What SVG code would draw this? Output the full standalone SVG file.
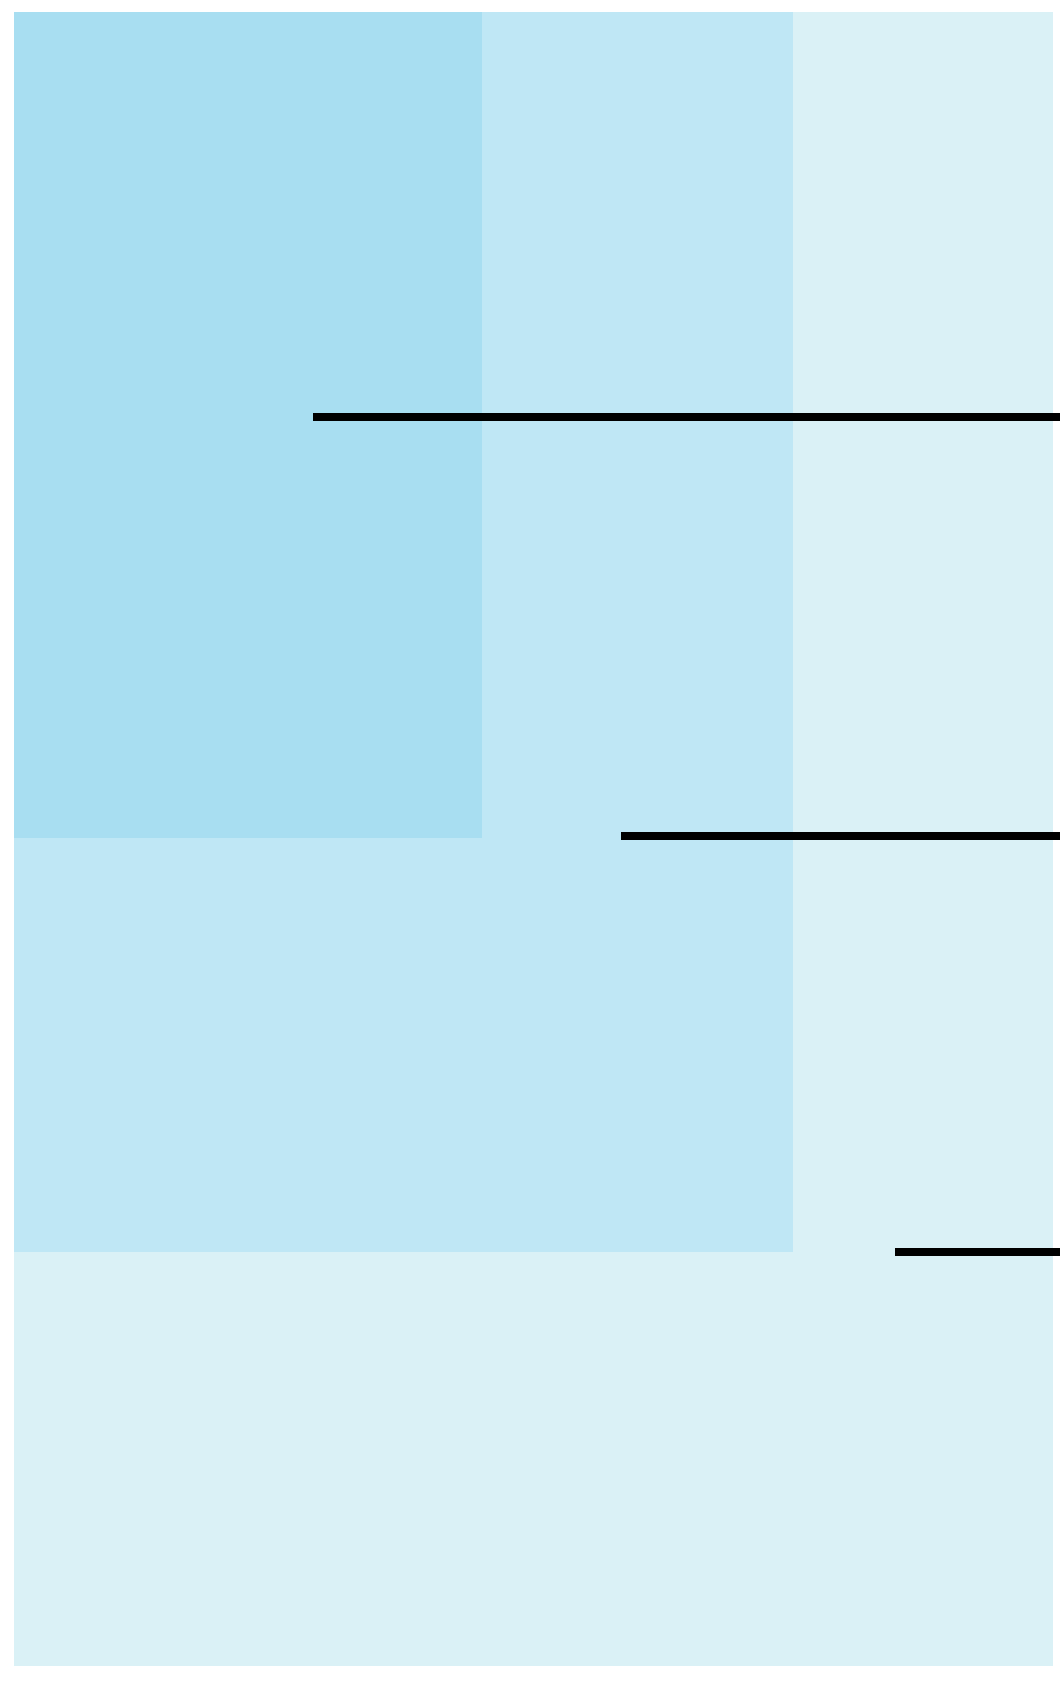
<svg xmlns="http://www.w3.org/2000/svg" width="1060" height="1689" viewBox="0 0 1060 1689">
<style>
.leader{stroke:#000;stroke-width:8;fill:none}
</style>
<rect width="1060" height="1689" fill="#ffffff"/>
<g id="outer"><rect x="14" y="12" width="1039" height="1654" fill="#daf1f6"/></g>
<g id="middle"><rect x="14" y="12" width="779" height="1240" fill="#bfe7f5"/></g>
<g id="inner"><rect x="14" y="12" width="468" height="826" fill="#a8def1"/></g>
<g id="connectors">
<line class="leader" x1="313" y1="417" x2="1060" y2="417"/>
<line class="leader" x1="621" y1="836" x2="1060" y2="836"/>
<line class="leader" x1="895" y1="1252" x2="1060" y2="1252"/>
</g>
</svg>
